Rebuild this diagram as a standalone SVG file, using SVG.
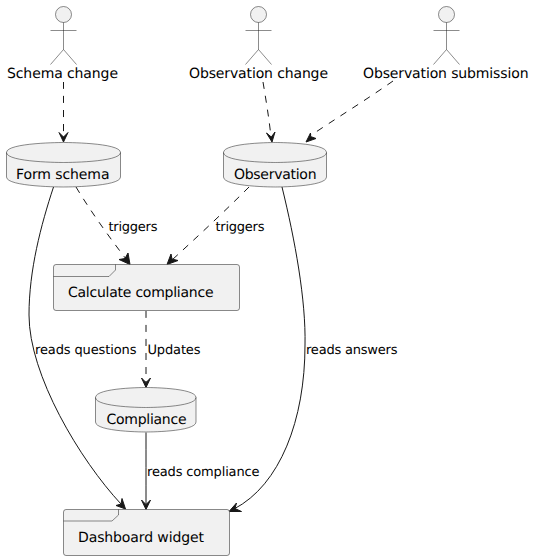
<svg xmlns="http://www.w3.org/2000/svg" width="535" height="560" viewBox="0 0 535 560">
<style>
.n{fill:#F1F1F1;stroke:#181818;stroke-width:.5}
.i{fill:none;stroke:#181818;stroke-width:.5}
text{text-rendering:geometricPrecision}
.t{font-family:"DejaVu Sans",sans-serif;font-size:14px;fill:#000}
.l{font-family:"DejaVu Sans",sans-serif;font-size:13px;fill:#000}
.c{fill:none;stroke:#181818;stroke-width:1}
.d{stroke-dasharray:7 7}
.h{fill:#181818;stroke:#181818;stroke-width:1}
</style>
<defs>
<g id="actor"><circle class="n" cx="0" cy="14.5" r="8"/><path class="i" d="M0 22.5V49.5M-13 30.5H13M0 49.5L-13 64.500M0 49.5L13 64.500"/></g>
</defs>
<g id="connectors">
<path class="c d" d="M63.500 82C63.500 100 63.500 120 63.500 137"/><path class="h" d="M63.500 142L59 132.500L63.500 137L68 132.500Z"/>
<path class="c d" d="M263 82C266 100 269 118 271 137"/><path class="h" d="M272 142L266.500 133L271.300 137L275 132Z"/>
<path class="c d" d="M393 81C366 100 335 119 310 136"/><path class="h" d="M306 142L310.500 133L310.500 136.500L316 138.500Z"/>
<path class="c d" d="M76 187C91 212 110 238 126 259"/><path class="h" d="M130 264.500L119 259.500L125 258.500L128 253Z"/>
<path class="c d" d="M249 187C224 212 196 238 172 260"/><path class="h" d="M167 264.500L171 254L172 259L178 260.500Z"/>
<path class="c d" d="M146 311C146 333 146 358 146 382"/><path class="h" d="M146 387.500L141.500 378L146 382.500L150.500 378Z"/>
<path class="c" d="M146 432.500C146 455 146 480 146 504"/><path class="h" d="M146 509.500L141.500 500L146 504.500L150.500 500Z"/>
<path class="c" d="M53.500 187C41 225 29 270 29 315C29 375 80 460 121 504"/><path class="h" d="M125.500 509L116 505.500L121 504L122 498.500Z"/>
<path class="c" d="M282 187C295 240 306 300 305 345C305 420 280 485 234 509"/><path class="h" d="M229 511.500L236.500 503L235 508.500L241.500 511.500Z"/>
</g>
<g id="schema-change"><use href="#actor" x="63.500"/><text class="t" x="7" y="78" textLength="111">Schema change</text></g>
<g id="observation-change"><use href="#actor" x="258.500"/><text class="t" x="189" y="78" textLength="139">Observation change</text></g>
<g id="observation-submission"><use href="#actor" x="446.500"/><text class="t" x="363" y="78" textLength="165.500">Observation submission</text></g>
<g id="form-schema"><path class="n" d="M6.500 152.500C6.500 142.500 63.500 142.500 63.500 142.500C63.500 142.500 120.500 142.500 120.500 152.500V177C120.500 187 63.500 187 63.500 187C63.500 187 6.500 187 6.500 177Z"/><path class="i" d="M6.500 152.500C6.500 162.500 63.500 162.500 63.500 162.500C63.500 162.500 120.500 162.500 120.500 152.500"/><text class="t" x="16" y="179" textLength="93.500">Form schema</text></g>
<g id="observation"><path class="n" d="M223.500 152.500C223.500 142.500 275.500 142.500 275.500 142.500C275.500 142.500 326.500 142.500 326.500 152.500V177C326.500 187 275.500 187 275.500 187C275.500 187 223.500 187 223.500 177Z"/><path class="i" d="M223.500 152.500C223.500 162.500 275.500 162.500 275.500 162.500C275.500 162.500 326.500 162.500 326.500 152.500"/><text class="t" x="234" y="179" textLength="82.500">Observation</text></g>
<g id="calculate-compliance"><rect class="n" x="53.500" y="264.500" width="186" height="46" rx="2.500"/><path class="i" d="M53.500 276.500H109L115.500 270V264.500"/><text class="t" x="68" y="297" textLength="145.500">Calculate compliance</text></g>
<g id="compliance"><path class="n" d="M95.500 397.500C95.500 387.500 146 387.500 146 387.500C146 387.500 196 387.500 196 397.500V422C196 432 146 432 146 432C146 432 95.500 432 95.500 422Z"/><path class="i" d="M95.500 397.500C95.500 407.500 146 407.500 146 407.500C146 407.500 196 407.500 196 397.500"/><text class="t" x="106.500" y="424" textLength="80">Compliance</text></g>
<g id="dashboard-widget"><rect class="n" x="63.500" y="509.500" width="166" height="46" rx="2.500"/><path class="i" d="M63.500 521H112L118.500 515V509.500"/><text class="t" x="78" y="542" textLength="126">Dashboard widget</text></g>
<g id="labels">
<text class="l" x="108.500" y="231" textLength="49">triggers</text>
<text class="l" x="215.500" y="231" textLength="49">triggers</text>
<text class="l" x="35" y="354" textLength="101.500">reads questions</text>
<text class="l" x="147.500" y="354" textLength="53">Updates</text>
<text class="l" x="306" y="354" textLength="91.500">reads answers</text>
<text class="l" x="147" y="476" textLength="112.500">reads compliance</text>
</g>
</svg>
